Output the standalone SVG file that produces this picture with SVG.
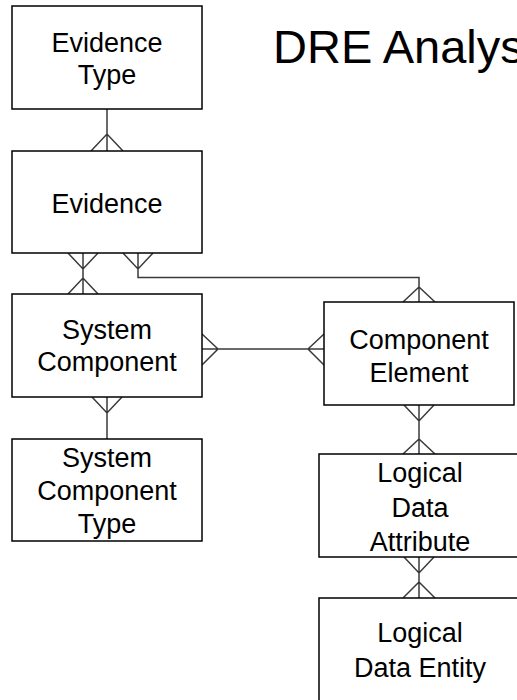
<svg xmlns="http://www.w3.org/2000/svg" width="517" height="700" viewBox="0 0 517 700">
<style>
.box{fill:#ffffff;stroke:#000000;stroke-width:1.5}
.lbl{font-family:"Liberation Sans",Arial,sans-serif;font-size:27px;fill:#000000;text-anchor:middle}
.title{font-family:"Liberation Sans",Arial,sans-serif;font-size:47px;fill:#000000}
.conn{fill:none;stroke:#3a3a3a;stroke-width:1.5}
</style>
<rect width="517" height="700" fill="#ffffff"/>
<text class="title" x="273" y="63">DRE Analysis</text>
<g id="connectors">
  <path class="conn" d="M107,109 V151 M91,151 L107,134 L123,151"/>
  <path class="conn" d="M83,253 V294 M68,253 L83,269 L98,253 M68,294 L83,278 L98,294"/>
  <path class="conn" d="M138,253 V277.5 H419 V302 M123,253 L138,269 L153,253 M403,302 L419,287 L435,302"/>
  <path class="conn" d="M202,349 H324 M202,334 L218,349 L202,365 M324,334 L308,349 L324,365"/>
  <path class="conn" d="M107,397 V439 M92,397 L107,413 L122,397"/>
  <path class="conn" d="M419,405 V454 M404,405 L419,421 L434,405 M403,454 L419,439 L435,454"/>
  <path class="conn" d="M419,557 V598 M404,557 L419,573 L434,557 M403,598 L419,582 L435,598"/>
</g>
<g id="evidence-type">
  <rect class="box" x="12" y="6" width="190" height="103"/>
  <text class="lbl" x="107" y="52">Evidence</text>
  <text class="lbl" x="107" y="84">Type</text>
</g>
<g id="evidence">
  <rect class="box" x="12" y="151" width="190" height="102"/>
  <text class="lbl" x="107" y="213">Evidence</text>
</g>
<g id="system-component">
  <rect class="box" x="12" y="294" width="190" height="103"/>
  <text class="lbl" x="107" y="339">System</text>
  <text class="lbl" x="107" y="371">Component</text>
</g>
<g id="system-component-type">
  <rect class="box" x="12" y="439" width="190" height="102"/>
  <text class="lbl" x="107" y="467">System</text>
  <text class="lbl" x="107" y="500">Component</text>
  <text class="lbl" x="107" y="533">Type</text>
</g>
<g id="component-element">
  <rect class="box" x="324" y="302" width="190" height="103"/>
  <text class="lbl" x="419" y="349">Component</text>
  <text class="lbl" x="419" y="382">Element</text>
</g>
<g id="logical-data-attribute">
  <rect class="box" x="319" y="454" width="202" height="103"/>
  <text class="lbl" x="420" y="482">Logical</text>
  <text class="lbl" x="420" y="517">Data</text>
  <text class="lbl" x="420" y="551">Attribute</text>
</g>
<g id="logical-data-entity">
  <rect class="box" x="319" y="598" width="202" height="110"/>
  <text class="lbl" x="420" y="642">Logical</text>
  <text class="lbl" x="420" y="677">Data Entity</text>
</g>
</svg>
